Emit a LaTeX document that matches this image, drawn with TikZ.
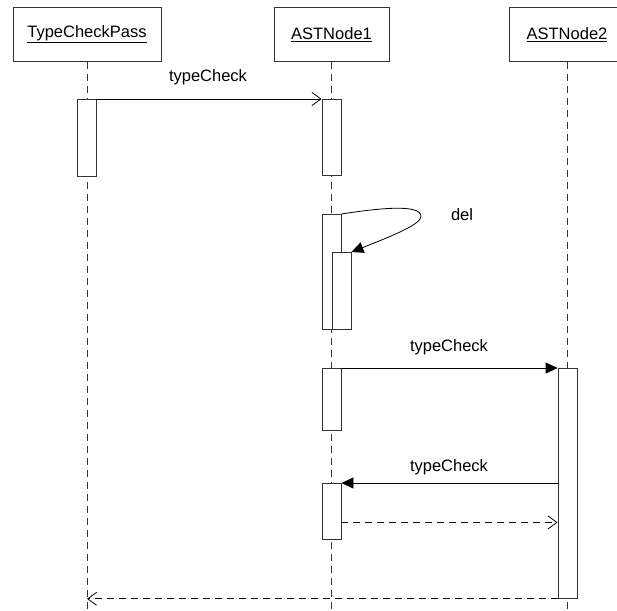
\documentclass[tikz,border=0pt]{standalone}
\usepackage{fontspec}
\setmainfont{Liberation Sans}
\usetikzlibrary{arrows.meta}
\begin{document}
\begin{tikzpicture}[x=1pt,y=-1pt,
  every node/.style={font=\fontsize{16.5}{19}\selectfont},
  obj/.style={draw=black!80, line width=0.9pt, minimum width=115pt, minimum height=54pt, inner sep=0pt, anchor=north},
  lifeline/.style={draw=black!80, line width=0.8pt, dash pattern=on 7pt off 5pt},
  actbar/.style={draw=black!80, fill=white, line width=0.8pt, minimum width=19pt, inner sep=0pt, anchor=north},
  msg/.style={draw=black, line width=0.8pt},
  openhead/.style={-{Straight Barb[length=9pt,width=13pt,line width=0.8pt]}},
  fillhead/.style={-{Triangle[length=12pt,width=11pt]}},
  lbl/.style={inner sep=0pt}
]
\useasboundingbox (0,0) rectangle (617,610);
\clip (0,0) rectangle (617,610);

% objects
\node[obj, minimum width=148pt] (tcp) at (87,7) {\underline{TypeCheckPass}};
\node[obj] (n1) at (331.5,7) {\underline{ASTNode1}};
\node[obj] (n2) at (567,7) {\underline{ASTNode2}};

% lifelines
\coordinate (e0) at (0,611);
\draw[lifeline] (tcp.south) -- (tcp.south |- e0);
\draw[lifeline] (n1.south) -- (n1.south |- e0);
\draw[lifeline] (n2.south) -- (n2.south |- e0);

% activation bars
\node[actbar, minimum height=77pt] (tb1) at (86.5,99) {};
\node[actbar, minimum height=76pt] (a1) at (331.5,99) {};
\node[actbar, minimum height=115pt] (a2) at (331.5,214) {};
\node[actbar, minimum height=77pt] (a3) at (341.5,252) {};
\node[actbar, minimum height=62pt] (a4) at (331.5,368) {};
\node[actbar, minimum height=56pt] (a5) at (331.5,483) {};
\node[actbar, minimum height=230pt] (b2) at (567.5,368) {};

% message 1
\draw[msg, openhead] (tb1.north east) -- (a1.north west);
\node[lbl] (l1) at (208,77) {typeCheck};

% self message del
\coordinate (turn) at (421,216);
\draw[msg, fillhead] (a2.north east) .. controls (380,208) and (420,204) .. (turn)
  .. controls (422,224) and (392,236) .. (a3.north east);
\node[lbl] (l2) at (462,215) {del};

% message typeCheck to ASTNode2
\draw[msg, fillhead] (a4.north east) -- (b2.north west);
\node[lbl] (l3) at (449,347) {typeCheck};

% message typeCheck back to ASTNode1
\draw[msg, fillhead] (b2.west |- a5.north east) -- (a5.north east);
\node[lbl] (l4) at (449,467) {typeCheck};

% dashed return
\coordinate (r1) at ([yshift=-11pt]a5.east);
\draw[msg, dash pattern=on 7pt off 5pt, openhead] (r1) -- (r1 -| b2.west);

% final return
\draw[msg, dash pattern=on 7pt off 5pt, openhead] (b2.south west) -- (b2.south west -| tcp.south);
\end{tikzpicture}
\end{document}
